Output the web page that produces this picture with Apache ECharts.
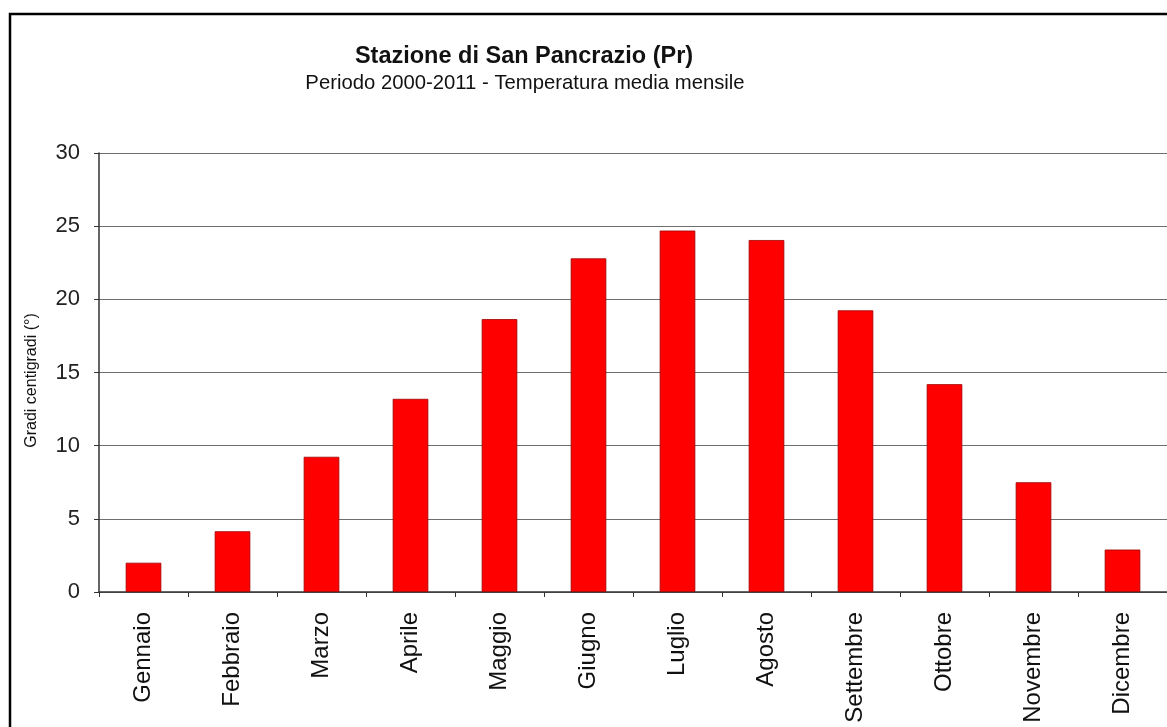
<!DOCTYPE html>
<html>
<head>
<meta charset="utf-8">
<script src="https://cdn.jsdelivr.net/npm/echarts@6/dist/echarts.min.js"></script>
<style>
  html, body { margin: 0; padding: 0; background: #fff; }
  #chart { width: 1167px; height: 727px; }
</style>
</head>
<body>
<div id="chart"></div>
<script>
// Monthly mean temperature, San Pancrazio station, 2000-2011
const months = ['Gennaio', 'Febbraio', 'Marzo', 'Aprile', 'Maggio', 'Giugno',
                'Luglio', 'Agosto', 'Settembre', 'Ottobre', 'Novembre', 'Dicembre'];
const meanTemp = [2.0, 4.15, 9.24, 13.2, 18.65, 22.8, 24.7, 24.05, 19.25, 14.2, 7.5, 2.9];
const yTicks = [0, 5, 10, 15, 20, 25, 30];

const titleText = 'Stazione di San Pancrazio (Pr)';
const subtitleText = 'Periodo 2000-2011 - Temperatura media mensile';
const yAxisName = 'Gradi centigradi (°)';

const FONT = '"Liberation Sans", Arial, sans-serif';

const chart = echarts.init(document.getElementById('chart'), null, { renderer: 'canvas' });

chart.setOption({
  animation: false,
  backgroundColor: '#ffffff',
  title: [
    {
      text: titleText,
      left: 519, top: 40, textAlign: 'center',
      textStyle: { fontFamily: FONT, fontSize: 23.5, fontWeight: 'bold', color: '#111' }
    },
    {
      text: subtitleText,
      left: 520, top: 68, textAlign: 'center',
      textStyle: { fontFamily: FONT, fontSize: 20.3, fontWeight: 'normal', color: '#111' }
    }
  ],
  graphic: [
    {
      type: 'rect',
      shape: { x: 10, y: 14, width: 1300, height: 900 },
      style: { fill: 'none', stroke: '#000', lineWidth: 2.5 },
      z: 100
    }
  ],
  grid: { left: 99, top: 153, width: 1074, height: 439 },
  xAxis: {
    type: 'category',
    data: months,
    boundaryGap: true,
    axisLine: { show: true, lineStyle: { color: '#333', width: 1.5 } },
    axisTick: { show: true, length: 5, lineStyle: { color: '#333' } },
    axisLabel: {
      rotate: 90, interval: 0, margin: 20,
      fontFamily: FONT, fontSize: 24, color: '#111'
    },
    splitLine: { show: false }
  },
  yAxis: {
    type: 'value',
    min: yTicks[0], max: yTicks[yTicks.length - 1], interval: 5,
    name: yAxisName,
    nameLocation: 'middle',
    nameGap: 59,
    nameRotate: 90,
    nameTextStyle: { fontFamily: FONT, fontSize: 16, color: '#111', padding: [0, 16, 0, 0] },
    axisLine: { show: true, lineStyle: { color: '#333', width: 1.5 } },
    axisTick: { show: true, inside: false, length: 5, lineStyle: { color: '#333' } },
    axisLabel: { margin: 19, fontFamily: FONT, fontSize: 22, color: '#222' },
    splitLine: { show: true, lineStyle: { color: '#6e6e6e', width: 1 } }
  },
  series: [
    {
      type: 'bar',
      data: meanTemp,
      barWidth: '40%',
      itemStyle: { color: '#ff0000', borderColor: '#a00000', borderWidth: 0.8 }
    }
  ]
});
</script>
</body>
</html>
